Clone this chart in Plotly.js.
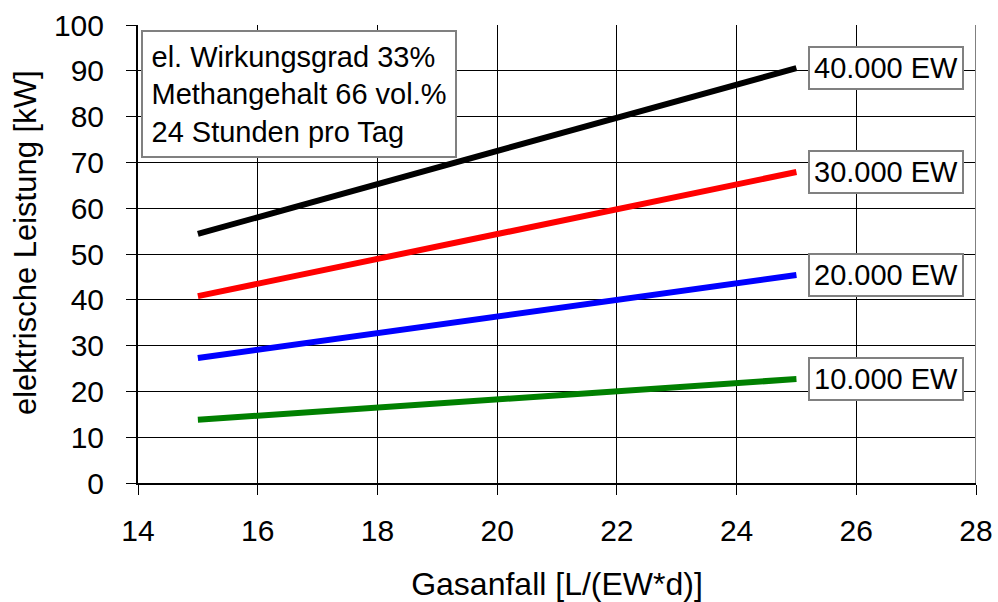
<!DOCTYPE html>
<html>
<head>
<meta charset="utf-8">
<script src="https://cdn.plot.ly/plotly-3.0.1.min.js"></script>
<style>html,body{margin:0;padding:0;background:#fff;}#chart{width:998px;height:602px;}</style>
</head>
<body>
<div id="chart"></div>
<script>
const gasanfall = [15, 25];
const ew40000 = [54.4, 90.6];
const ew30000 = [40.8, 67.9];
const ew20000 = [27.3, 45.4];
const ew10000 = [13.8, 22.7];
const seriesNames = ['40.000 EW', '30.000 EW', '20.000 EW', '10.000 EW'];
const seriesColors = ['#000000', '#ff0000', '#0000ff', '#008000'];
const seriesValues = [ew40000, ew30000, ew20000, ew10000];
const labelX = 26.5;
const infoText = ['el. Wirkungsgrad 33%', 'Methangehalt 66 vol.%', '24 Stunden pro Tag'];
const xTitle = 'Gasanfall [L/(EW*d)]';
const yTitle = 'elektrische Leistung [kW]';

const font = 'Liberation Sans, Arial, sans-serif';

const traces = seriesValues.map((v, i) => ({
  x: gasanfall, y: v, type: 'scatter', mode: 'lines', name: seriesNames[i],
  line: {color: seriesColors[i], width: 6}, showlegend: false, hoverinfo: 'skip'
}));

const annotations = seriesValues.map((v, i) => ({
  x: labelX, y: v[v.length - 1], xref: 'x', yref: 'y', text: seriesNames[i],
  showarrow: false, font: {family: font, size: 29, color: '#000'},
  bgcolor: '#ffffff', bordercolor: '#808080', borderwidth: 2, borderpad: 4,
  xanchor: 'center', yanchor: 'middle'
}));
annotations.push({
  x: 0.0036, y: 0.989, xref: 'paper', yref: 'paper', xanchor: 'left', yanchor: 'top',
  text: infoText.join('<br>'), align: 'left', showarrow: false,
  font: {family: font, size: 29, color: '#000'},
  bgcolor: '#ffffff', bordercolor: '#808080', borderwidth: 2, borderpad: 8.5
});
annotations.push({
  x: -0.1348, y: 0.524, xref: 'paper', yref: 'paper', xanchor: 'center', yanchor: 'middle',
  text: yTitle, textangle: -90, showarrow: false,
  font: {family: font, size: 31, color: '#000'}
});

const layout = {
  width: 998, height: 602,
  margin: {l: 138, r: 22, t: 25, b: 119},
  paper_bgcolor: '#fff', plot_bgcolor: '#fff',
  font: {family: font, color: '#000'},
  xaxis: {
    range: [14, 28], dtick: 2, tick0: 14, showgrid: true, gridcolor: '#000', gridwidth: 1,
    zeroline: false, showline: true, linecolor: '#000', linewidth: 2,
    ticks: 'outside', ticklen: 10, tickcolor: '#000', tickwidth: 1,
    tickfont: {family: font, size: 30}, ticklabelstandoff: 10,
    title: {text: xTitle, font: {family: font, size: 32}, standoff: 30}
  },
  yaxis: {
    range: [0, 100], dtick: 10, tick0: 0, showgrid: true, gridcolor: '#000', gridwidth: 1,
    zeroline: false, showline: true, linecolor: '#000', linewidth: 2,
    ticks: 'outside', ticklen: 10, tickcolor: '#000', tickwidth: 1,
    tickfont: {family: font, size: 30}, ticklabelstandoff: 16
  },
  shapes: [{type: 'line', xref: 'x', yref: 'paper', x0: 28, x1: 28, y0: 0, y1: 1,
    line: {color: '#808080', width: 2}}],
  annotations: annotations
};

Plotly.newPlot('chart', traces, layout, {staticPlot: true, displayModeBar: false});
</script>
</body>
</html>
